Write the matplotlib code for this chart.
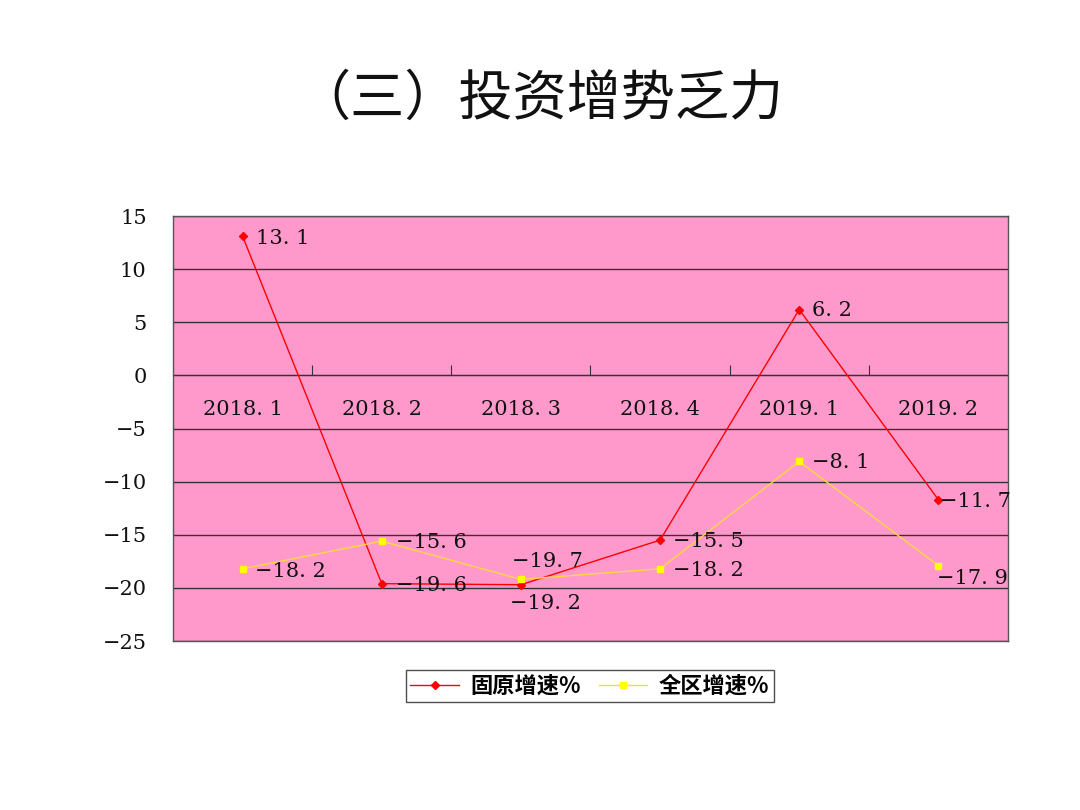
import numpy as np
import matplotlib.pyplot as plt
from matplotlib.ticker import FixedLocator, NullFormatter, FixedFormatter

plt.rcParams['font.family'] = ['Noto Sans CJK SC', 'DejaVu Sans']

categories = ["2018.1", "2018.2", "2018.3", "2018.4", "2019.1", "2019.2"]
guyuan = [13.1, -19.6, -19.7, -15.5, 6.2, -11.7]
quanqu = [-18.2, -15.6, -19.2, -18.2, -8.1, -17.9]
yticks = [15, 10, 5, 0, -5, -10, -15, -20, -25]

# label offsets (points) for each data label
red_off = [(10, -2), (10, -1), (19, 17), (9, -1), (9, -1), (1, -1)]
yel_off = [(9, -2), (10, -1), (18, -17), (9, -1), (9, -1), (-1, -9)]
red_ha = ["left", "left", "center", "left", "left", "left"]
yel_ha = ["left", "left", "center", "left", "left", "left"]

NUMFONT = ["DejaVu Serif"]
INK = "#111111"

fig = plt.figure(figsize=(10.8, 8.1), dpi=100)
ax = fig.add_axes([0.1602, 0.2086, 0.7731, 0.5247])
ax.set_facecolor("#FF99CC")

x = np.arange(len(categories))
ax.plot(x, guyuan, color="#FF0000", lw=1.0, marker="D", ms=4,
        mfc="#FF0000", mec="#FF0000", label="固原增速%", zorder=3)
ax.plot(x, quanqu, color="#FFD840", lw=1.0, marker="s", ms=5,
        mfc="#FFFF00", mec="#FFFF00", label="全区增速%", zorder=3)

def fmt(v):
    return f"{v:.1f}".replace("-", "−").replace(".", ". ")

for xi, v, off, ha in zip(x, guyuan, red_off, red_ha):
    ax.annotate(fmt(v), (xi, v), xytext=off, textcoords="offset points",
                ha=ha, va="center", fontsize=15, family=NUMFONT, color=INK, zorder=4)
for xi, v, off, ha in zip(x, quanqu, yel_off, yel_ha):
    ax.annotate(fmt(v), (xi, v), xytext=off, textcoords="offset points",
                ha=ha, va="center", fontsize=15, family=NUMFONT, color=INK, zorder=4)

ax.set_xlim(-0.5, len(categories) - 0.5)
ax.set_ylim(-25, 15)
ax.set_yticks(yticks)
ax.set_yticklabels([str(t).replace("-", "−") for t in yticks],
                   fontsize=15, family=NUMFONT, color=INK)
ax.tick_params(axis="y", length=0, pad=19)
ax.set_xticks([])
ax.grid(axis="y", color="#333333", lw=1.0)
ax.set_axisbelow(True)
for s in ax.spines.values():
    s.set_color("#555555")
    s.set_linewidth(1.0)

# category axis crossing at y = 0
sec = ax.secondary_xaxis(25 / 40)
sec.xaxis.set_ticks_position("bottom")
sec.xaxis.set_major_locator(FixedLocator(np.arange(len(categories) - 1) + 0.5))
sec.xaxis.set_major_formatter(NullFormatter())
sec.xaxis.set_minor_locator(FixedLocator(x))
sec.xaxis.set_minor_formatter(FixedFormatter([c.replace(".", ". ") for c in categories]))
sec.tick_params(axis="x", which="major", direction="in", length=7, color="#333333")
sec.tick_params(axis="x", which="minor", length=0, pad=18, labelsize=15)
for lab in sec.get_xticklabels(minor=True):
    lab.set_family(NUMFONT)
    lab.set_color(INK)
for sp in sec.spines.values():
    sp.set_color("#333333")

leg = fig.legend(loc="center", bbox_to_anchor=(0.546, 0.153), ncol=2,
                 prop={"size": 16, "weight": "bold"}, frameon=True, fancybox=False,
                 edgecolor="#222222", handlelength=2.2, columnspacing=0.8,
                 borderpad=0.2, handletextpad=0.5)
leg.get_frame().set_linewidth(1.0)

fig.text(0.5, 0.877, "（三）投资增势乏力", ha="center", va="center",
         fontsize=39, color="#111111")

fig.savefig("out.png", dpi=100, facecolor="white")
